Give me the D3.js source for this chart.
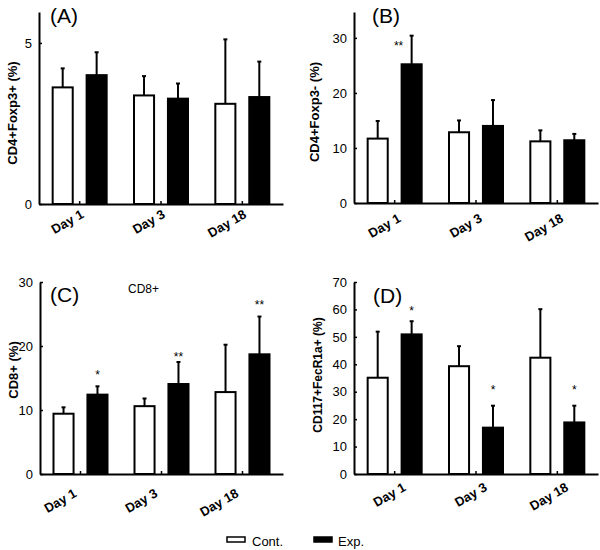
<!DOCTYPE html>
<html><head><meta charset="utf-8">
<script src="https://cdn.jsdelivr.net/npm/d3@7"></script>
<style>
body{margin:0;background:#fff}
svg{display:block}
text{font-family:"Liberation Sans",Arial,Helvetica,sans-serif;fill:#000}
</style>
</head><body>
<svg id="chart" width="600" height="550"></svg>
<script>
// ---------- data ----------
const days = ["Day 1", "Day 3", "Day 18"];
const groups = ["Cont.", "Exp."];

// (A) CD4+Foxp3+ (%)
const aCont = [3.62, 3.37, 3.11];
const aContErr = [0.59, 0.60, 2.00];
const aExp = [4.00, 3.27, 3.32];
const aExpErr = [0.71, 0.47, 1.10];
const aTicks = [0, 5];
const aStars = ["", "", ""];
const aStarVals = [0, 0, 0];

// (B) CD4+Foxp3- (%)
const bCont = [11.7, 12.85, 11.2];
const bContErr = [3.2, 2.15, 2.0];
const bExp = [25.2, 14.0, 11.4];
const bExpErr = [5.2, 4.7, 1.15];
const bTicks = [0, 10, 20, 30];
const bStars = ["**", "", ""];
const bStarVals = [29.0, 0, 0];

// (C) CD8+ (%)
const cCont = [9.42, 10.6, 12.8];
const cContErr = [1.0, 1.2, 7.4];
const cExp = [12.4, 14.06, 18.7];
const cExpErr = [1.3, 3.44, 5.9];
const cTicks = [0, 10, 20, 30];
const cStars = ["*", "**", "**"];
const cStarVals = [16.0, 18.75, 26.9];

// (D) CD117+FecR1a+ (%)
const dCont = [35.1, 39.3, 42.4];
const dContErr = [16.8, 7.3, 17.7];
const dExp = [50.9, 16.9, 18.8];
const dExpErr = [4.8, 8.0, 6.1];
const dTicks = [0, 10, 20, 30, 40, 50, 60, 70];
const dStars = ["*", "*", "*"];
const dStarVals = [60.5, 31.85, 31.85];

// ---------- layout ----------
const svg = d3.select("#chart");

const panels = [
  {tag: "(A)", yLabel: "CD4+Foxp3+  (%)", cont: aCont, contErr: aContErr, exp: aExp, expErr: aExpErr,
   ticks: aTicks, stars: aStars, starVals: aStarVals, ymax: 5.96,
   x0: 39, x1: 283, y0: 204, y1: 12, tagX: 50, tagY: 23, lx: 14, ly: 113, lsize: 13,
   ldx: 5, ldy: 13, starDx: 0},
  {tag: "(B)", yLabel: "CD4+Foxp3-  (%)", cont: bCont, contErr: bContErr, exp: bExp, expErr: bExpErr,
   ticks: bTicks, stars: bStars, starVals: bStarVals, ymax: 34.7,
   x0: 354, x1: 598, y0: 203, y1: 12, tagX: 372, tagY: 23, lx: 316, ly: 112, lsize: 13,
   ldx: 7, ldy: 18, starDx: -13},
  {tag: "(C)", yLabel: "CD8+ (%)", cont: cCont, contErr: cContErr, exp: cExp, expErr: cExpErr,
   ticks: cTicks, stars: cStars, starVals: cStarVals, ymax: 30,
   x0: 40, x1: 283, y0: 474, y1: 282, tagX: 50, tagY: 302, lx: 15, ly: 370, lsize: 13,
   ldx: -3, ldy: 22, starDx: 0, sub: "CD8+", subX: 128, subY: 293},
  {tag: "(D)", yLabel: "CD117+FecR1a+ (%)", cont: dCont, contErr: dContErr, exp: dExp, expErr: dExpErr,
   ticks: dTicks, stars: dStars, starVals: dStarVals, ymax: 70,
   x0: 354, x1: 598, y0: 474, y1: 282, tagX: 373, tagY: 303, lx: 319, ly: 375, lsize: 12,
   ldx: 12, ldy: 16, starDx: 0}
];

const sub = d3.scaleBand().domain(groups).range([-28, 28]).paddingInner(0.35);

panels.forEach(p => {
  const g = svg.append("g");
  const x = d3.scaleBand().domain(days).range([p.x0, p.x1]).padding(0);
  const y = d3.scaleLinear().domain([0, p.ymax]).range([p.y0, p.y1]);
  const cx = d => x(d) + x.bandwidth() / 2;

  const rows = [];
  days.forEach((d, i) => {
    rows.push({day: d, grp: groups[0], v: p.cont[i], e: p.contErr[i]});
    rows.push({day: d, grp: groups[1], v: p.exp[i], e: p.expErr[i]});
  });

  // error bars (behind bars)
  const eb = g.append("g");
  eb.selectAll("line.err").data(rows).join("line")
    .attr("x1", r => cx(r.day) + sub(r.grp) + sub.bandwidth() / 2)
    .attr("x2", r => cx(r.day) + sub(r.grp) + sub.bandwidth() / 2)
    .attr("y1", r => y(r.v))
    .attr("y2", r => y(r.v + r.e))
    .attr("stroke", "#000").attr("stroke-width", 2);
  eb.selectAll("line.cap").data(rows).join("line")
    .attr("x1", r => cx(r.day) + sub(r.grp) + sub.bandwidth() / 2 - 2)
    .attr("x2", r => cx(r.day) + sub(r.grp) + sub.bandwidth() / 2 + 2)
    .attr("y1", r => y(r.v + r.e))
    .attr("y2", r => y(r.v + r.e))
    .attr("stroke", "#000").attr("stroke-width", 2);

  // bars
  g.append("g").selectAll("rect").data(rows).join("rect")
    .attr("x", r => cx(r.day) + sub(r.grp) + 1)
    .attr("width", sub.bandwidth() - 2)
    .attr("y", r => y(r.v))
    .attr("height", r => y(0) - y(r.v))
    .attr("fill", r => r.grp === groups[0] ? "#fff" : "#000")
    .attr("stroke", "#000").attr("stroke-width", 2);

  // stars
  g.append("g").selectAll("text").data(days.map((d, i) => ({d, s: p.stars[i], v: p.starVals[i]})).filter(o => o.s))
    .join("text")
    .attr("x", o => cx(o.d) + sub(groups[1]) + sub.bandwidth() / 2 + p.starDx)
    .attr("y", o => y(o.v) + 7)
    .attr("text-anchor", "middle")
    .attr("font-size", 12)
    .text(o => o.s);

  // y axis
  const ya = g.append("g").attr("transform", `translate(${p.x0},0)`)
    .call(d3.axisLeft(y).tickValues(p.ticks).tickFormat(d3.format("d"))
      .tickSizeInner(-3).tickSizeOuter(0).tickPadding(7));
  ya.select(".domain").attr("stroke-width", 2);
  ya.selectAll(".tick line").attr("stroke-width", 1.5);
  ya.selectAll(".tick text").attr("font-size", 13).style("font-family", '"Liberation Sans",Arial,sans-serif');

  // x axis (line + inner ticks; labels drawn separately)
  const xa = g.append("g").attr("transform", `translate(0,${p.y0})`)
    .call(d3.axisBottom(x).tickSizeInner(-3).tickSizeOuter(0).tickFormat(""));
  xa.select(".domain").attr("stroke-width", 2);
  xa.selectAll(".tick line").attr("stroke-width", 1.5);

  g.append("g").selectAll("g.xl").data(days).join("g")
    .attr("class", "xl")
    .attr("transform", d => `translate(${cx(d) + p.ldx},${p.y0 + p.ldy}) rotate(-30)`)
    .append("text")
    .attr("text-anchor", "end")
    .attr("font-size", 13).attr("font-weight", "bold")
    .text(d => d);

  // y label
  g.append("text")
    .attr("transform", `translate(${p.lx},${p.ly}) rotate(-90)`)
    .attr("text-anchor", "middle").attr("dominant-baseline", "middle")
    .attr("font-size", p.lsize).attr("font-weight", "bold")
    .text(p.yLabel);

  // panel tag
  g.append("text").attr("x", p.tagX).attr("y", p.tagY)
    .attr("font-size", 21).text(p.tag);

  if (p.sub) {
    g.append("text").attr("x", p.subX).attr("y", p.subY)
      .attr("font-size", 12).text(p.sub);
  }
});

// legend
const legend = svg.append("g");
const legItems = [{name: groups[0], fill: "#fff", x: 227, tx: 252}, {name: groups[1], fill: "#000", x: 314, tx: 338}];
legend.selectAll("rect").data(legItems).join("rect")
  .attr("x", d => d.x).attr("y", 537).attr("width", 18).attr("height", 5)
  .attr("fill", d => d.fill).attr("stroke", "#000").attr("stroke-width", 1.5);
legend.selectAll("text").data(legItems).join("text")
  .attr("x", d => d.tx).attr("y", 546)
  .attr("font-size", 13).text(d => d.name);
</script>
</body></html>
